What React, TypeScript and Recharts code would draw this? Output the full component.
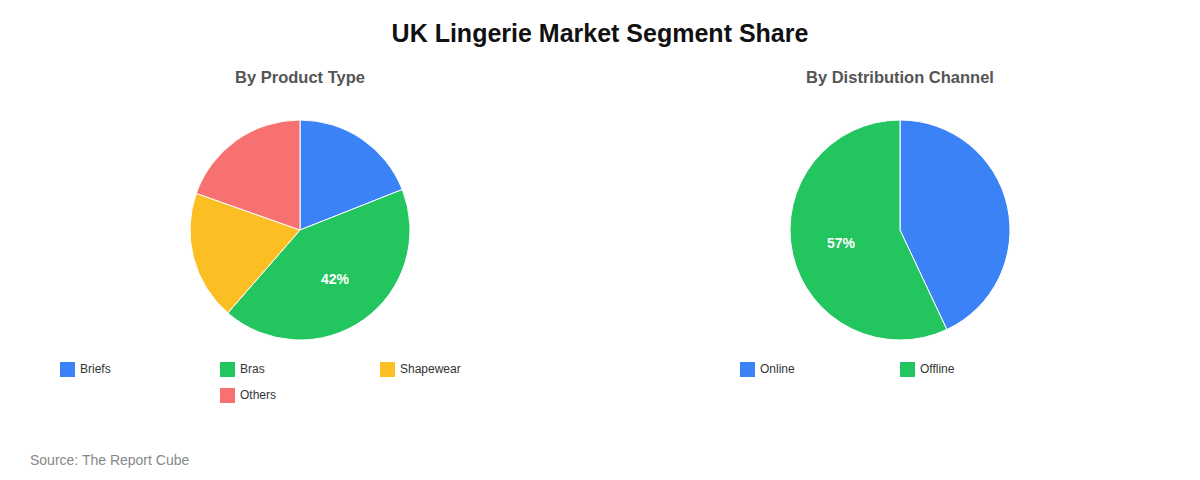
import { PieChart, Pie, Cell, Legend } from 'recharts';

const productNames = ['Briefs', 'Bras', 'Shapewear', 'Others'];
const productValues = [19, 42.4, 19, 19.6];
const channelNames = ['Online', 'Offline'];
const channelValues = [43, 57];

const COLORS = ['#3b82f6', '#22c55e', '#fbbf24', '#f87171'];
const FONT = '"Liberation Sans", Arial, Helvetica, sans-serif';
const RAD = Math.PI / 180;

const makeLegend = (names: string[]) => () => (
  <div style={{ display: 'flex', flexWrap: 'wrap', justifyContent: 'center', width: 480, margin: '0 auto', fontFamily: FONT }}>
    {names.map((name, i) => (
      <div key={`leg-${i}`} style={{ width: 160, height: 26, display: 'flex', alignItems: 'center' }}>
        <span style={{ width: 15, height: 15, background: COLORS[i % COLORS.length], display: 'inline-block', marginRight: 5 }} />
        <span style={{ fontSize: 12, color: '#333' }}>{name}</span>
      </div>
    ))}
  </div>
);

const SegmentPie = ({ title, names, values }: { title: string; names: string[]; values: number[] }) => {
  const data = names.map((name, i) => ({ name, value: values[i] }));
  const total = values.reduce((a, b) => a + b, 0);
  const maxIdx = values.indexOf(Math.max(...values));

  const renderLabel = (p: any) => {
    if (p.index !== maxIdx) return null;
    const r = p.outerRadius * 0.55;
    const x = p.cx + r * Math.cos(-p.midAngle * RAD);
    const y = p.cy + r * Math.sin(-p.midAngle * RAD);
    return (
      <text x={x} y={y} fill="#fff" textAnchor="middle" dominantBaseline="central" fontSize={14} fontWeight="bold" fontFamily={FONT}>
        {`${Math.round((p.value / total) * 100)}%`}
      </text>
    );
  };

  return (
    <div style={{ position: 'relative', width: 600, height: 430 }}>
      <div style={{ position: 'absolute', top: 68, left: 0, width: 600, textAlign: 'center', fontSize: 16.5, fontWeight: 'bold', color: '#555', fontFamily: FONT }}>
        {title}
      </div>
      <PieChart width={600} height={430} margin={{ top: 0, right: 0, bottom: 0, left: 0 }}>
        <Pie
          data={data}
          dataKey="value"
          nameKey="name"
          cx={300}
          cy={230}
          outerRadius={110}
          startAngle={90}
          endAngle={-270}
          stroke="#fff"
          strokeWidth={1}
          labelLine={false}
          label={renderLabel}
          isAnimationActive={false}
        >
          {data.map((entry, index) => (
            <Cell key={`cell-${index}`} fill={COLORS[index % COLORS.length]} />
          ))}
        </Pie>
        <Legend content={makeLegend(names)} wrapperStyle={{ position: 'absolute', top: 356, left: 0, width: 600 }} />
      </PieChart>
    </div>
  );
};

const App = () => {
  return (
    <div style={{ position: 'absolute', top: 0, left: 0, width: 1200, height: 480, background: '#fff', fontFamily: FONT }}>
      <div style={{ position: 'absolute', top: 19, left: 0, width: 1200, textAlign: 'center', fontSize: 25, fontWeight: 'bold', color: '#111' }}>
        UK Lingerie Market Segment Share
      </div>
      <div style={{ position: 'absolute', top: 0, left: 0, display: 'flex' }}>
        <SegmentPie title="By Product Type" names={productNames} values={productValues} />
        <SegmentPie title="By Distribution Channel" names={channelNames} values={channelValues} />
      </div>
      <div style={{ position: 'absolute', top: 452, left: 30, fontSize: 14, color: '#888' }}>
        Source: The Report Cube
      </div>
    </div>
  );
};

export default App;
